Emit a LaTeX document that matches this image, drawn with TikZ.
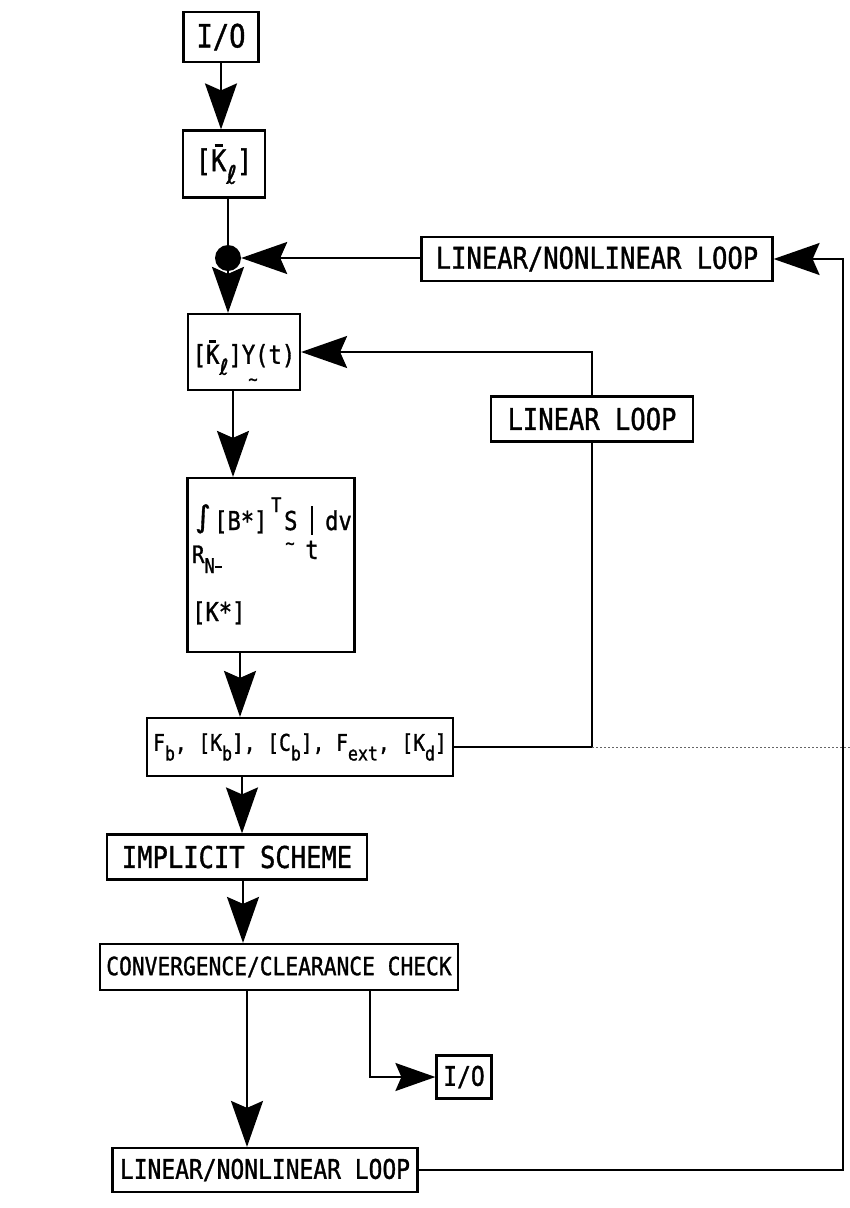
\documentclass[tikz,border=0pt]{standalone}
\usepackage{fontspec}
\setmonofont[FakeStretch=0.85,FakeBold=1.2]{DejaVu Sans Mono}
\newfontfamily\symfont[FakeBold=1.2]{DejaVu Sans}
\usetikzlibrary{arrows.meta,calc}
\newcommand{\fs}[1]{\fontsize{#1}{#1}\selectfont\ttfamily}
\newcommand{\lsub}[1]{\raisebox{-0.42em}{\scalebox{0.85}{#1}}}
\newcommand{\kbar}{\rlap{\raisebox{0.82em}{\makebox[0.51em][c]{\rule{0.28em}{0.09em}}}}K}
\tikzset{
  box/.style={draw, line width=2.2pt, inner sep=0pt, align=center},
  ln/.style={line width=2pt},
  arr/.style={line width=2pt, -{Stealth[length=46pt,width=32pt,inset=7pt]}},
  sarr/.style={line width=2pt, -{Stealth[length=40pt,width=28pt,inset=6pt]}},
  txt/.style={inner sep=0pt}
}
\begin{document}
\begin{tikzpicture}[x=1pt,y=-1pt]
\useasboundingbox (0,0) rectangle (850,1208);
% boxes
\node[box, minimum width=75pt, minimum height=50pt, font=\fs{32pt}] (io1) at (221,37) {I/O};
\node[box, minimum width=82pt, minimum height=67pt, font=\fs{30pt}] (kl) at (224,164) {[\kbar\lsub{\symfont ℓ}]};
\node[circle, fill=black, minimum size=26pt, inner sep=0pt] (dot) at (228,258) {};
\node[box, minimum width=351pt, minimum height=44pt, font=\fs{30pt}] (lnl1) at (597,259) {LINEAR/NONLINEAR LOOP};
\node[box, minimum width=112pt, minimum height=76pt, font=\fs{26pt}, text depth=0pt] (ky) at (244,352) {[\kbar\lsub{\symfont ℓ}]Y(t)};
\node[txt, font=\fs{18pt}] (kyTil) at (253,382) {\char"7E};
\node[box, minimum width=202pt, minimum height=45pt, font=\fs{30pt}] (ll) at (592,419) {LINEAR LOOP};
\node[box, minimum width=167pt, minimum height=174pt] (int) at (271,565) {};
\node[box, minimum width=306pt, minimum height=58pt, font=\fs{23pt}] (fb) at (300,747)
  {F\lsub{b}, [K\lsub{b}], [C\lsub{b}], F\lsub{ext}, [K\lsub{d}]};
\node[box, minimum width=260pt, minimum height=45pt, font=\fs{30pt}] (imp) at (237,857) {IMPLICIT SCHEME};
\node[box, minimum width=358pt, minimum height=46pt, font=\fs{25pt}] (conv) at (279,967) {CONVERGENCE/CLEARANCE CHECK};
\node[box, minimum width=55pt, minimum height=43pt, font=\fs{27pt}] (io2) at (464,1077) {I/O};
\node[box, minimum width=305pt, minimum height=44pt, font=\fs{27pt}] (lnl2) at (265,1170) {LINEAR/NONLINEAR LOOP};
% contents of integral box
\node[txt, anchor=base west, font=\symfont\fontsize{30pt}{30pt}\selectfont] (iInt) at (195,527) {∫};
\node[txt, anchor=base west, font=\fs{26pt}] (iA) at (214,530) {[B*]};
\node[txt, anchor=base west, font=\fs{20pt}] (iT) at (271,512) {T};
\node[txt, anchor=base west, font=\fs{26pt}] (iS) at (284,530) {S};
\node[txt, font=\fs{18pt}] (iTil) at (290,546) {\char"7E};
\coordinate (barT) at (312,506);
\coordinate (barB) at (312,535);
\draw[line width=2pt] (barT) -- (barB);
\node[txt, anchor=base, font=\fs{26pt}] (iTt) at (312,559) {t};
\node[txt, anchor=base west, font=\fs{26pt}] (iDv) at (325,530) {dv};
\node[txt, anchor=base west, font=\fs{24pt}] (iR) at (192,563) {R\lsub{N}\lsub{\raisebox{0.25em}{\rule{0.35em}{0.08em}}}};
\node[txt, anchor=base west, font=\fs{26pt}] (iK) at (192,621) {[K*]};
% connectors
\draw[arr] (io1.south) -- (io1.south |- kl.north);
\draw[ln] (dot.north |- kl.south) -- (dot.north);
\draw[arr] (dot.south) -- (dot.south |- ky.north);
\draw[arr] (lnl1.west |- dot.east) -- (dot.east);
\draw[arr] ([xshift=-11pt]ky.south) -- ([xshift=-11pt]ky.south |- int.north);
\draw[arr] ([xshift=-31pt]int.south) -- ([xshift=-31pt]int.south |- fb.north);
\draw[arr] ([xshift=-58pt]fb.south) -- ([xshift=-58pt]fb.south |- imp.north);
\draw[arr] ([xshift=6pt]imp.south) -- ([xshift=6pt]imp.south |- conv.north);
\draw[arr] ([xshift=-32pt]conv.south) -- ([xshift=-32pt]conv.south |- lnl2.north);
\draw[sarr] ([xshift=91pt]conv.south) |- (io2.west);
% linear loop
\draw[ln] (fb.east) -| (ll.south);
\draw[arr] (ll.north) |- (ky.east);
\coordinate (dotend) at (850,747);
\draw[line width=1pt, dash pattern=on 2pt off 2pt, black!60] (ll.south |- fb.east) -- (dotend);
% linear/nonlinear loop
\coordinate (rc) at (843,1170);
\draw[arr] (lnl2.east) -- (rc) |- (lnl1.east);
\end{tikzpicture}
\end{document}
